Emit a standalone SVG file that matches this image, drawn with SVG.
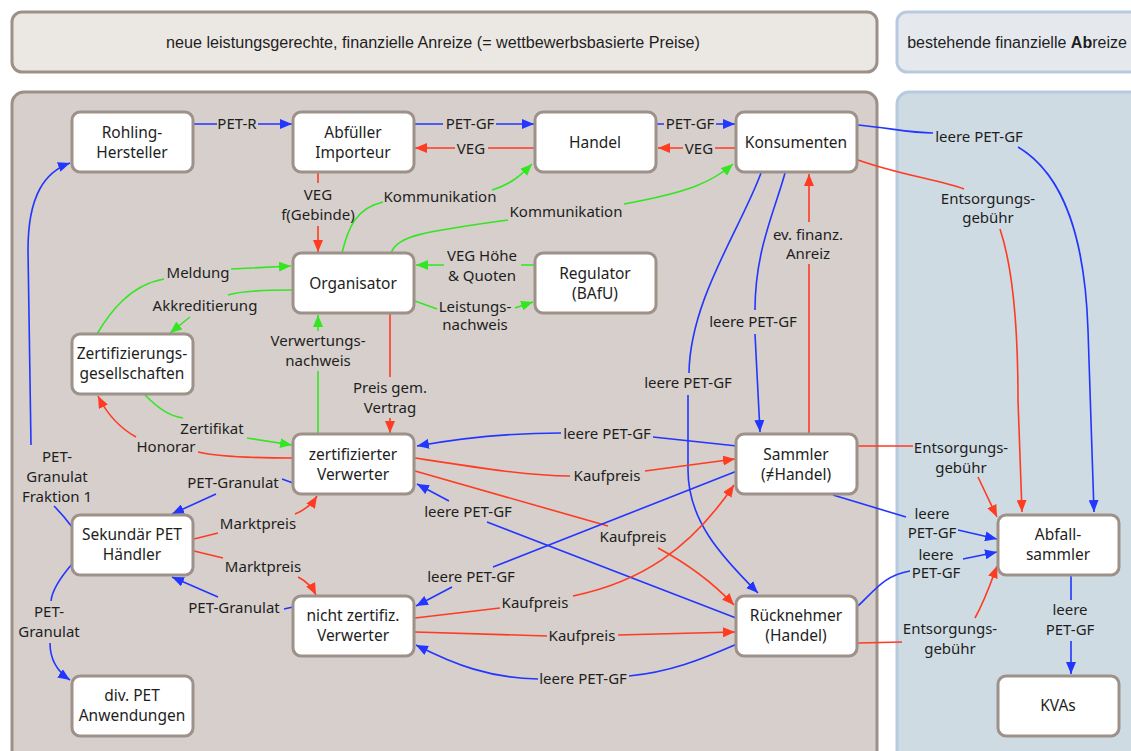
<svg xmlns="http://www.w3.org/2000/svg" width="1131" height="751" viewBox="0 0 1131 751">
<defs>
<style>
.node rect{fill:#fff;stroke:#9d9189;stroke-width:3}
text{font-family:"Noto Sans","Open Sans",sans-serif;font-size:15px;fill:#1e1e1e;text-anchor:middle}
.nt{font-size:15.5px}
.hd{font-family:"Liberation Sans",Arial,sans-serif;font-size:16px}
.c path{fill:none;stroke-width:1.6}
.b{stroke:#2236ff}
.r{stroke:#ff3b22}
.g{stroke:#33e622}
.b{marker-end:url(#ab)}
.r{marker-end:url(#ar)}
.g{marker-end:url(#ag)}
</style>
<marker id="ab" viewBox="0 0 12 10" refX="12" refY="5" markerWidth="12" markerHeight="10" markerUnits="userSpaceOnUse" orient="auto"><path d="M0,0 L12,5 L0,10 z" fill="#2236ff"/></marker>
<marker id="ar" viewBox="0 0 12 10" refX="12" refY="5" markerWidth="12" markerHeight="10" markerUnits="userSpaceOnUse" orient="auto"><path d="M0,0 L12,5 L0,10 z" fill="#ff3b22"/></marker>
<marker id="ag" viewBox="0 0 12 10" refX="12" refY="5" markerWidth="12" markerHeight="10" markerUnits="userSpaceOnUse" orient="auto"><path d="M0,0 L12,5 L0,10 z" fill="#33e622"/></marker>
</defs>
<rect width="1131" height="751" fill="#ffffff"/>
<g id="panels">
<rect x="12" y="12" width="865" height="60" rx="10" fill="#ebe7e3" stroke="#9d9088" stroke-width="3"/>
<rect x="897" y="12" width="250" height="60" rx="10" fill="#e5e9ee" stroke="#b7cae0" stroke-width="3"/>
<rect x="12" y="92" width="865" height="680" rx="12" fill="#d6cfcb" stroke="#9d9088" stroke-width="3"/>
<rect x="897" y="92" width="250" height="680" rx="12" fill="#cfdbe3" stroke="#b7cae0" stroke-width="3"/>
<text class="hd" x="433" y="48" textLength="534" lengthAdjust="spacingAndGlyphs">neue leistungsgerechte, finanzielle Anreize (= wettbewerbsbasierte Preise)</text>
<text class="hd" x="1017" y="48" font-size="15px">bestehende finanzielle <tspan font-weight="bold">Ab</tspan>reize</text>
</g>
<g id="connectors" class="c">
<path class="b" d="M193,124 L217,124 M258,124 L292,124"/>
<path class="b" d="M414,124 L443,124 M496,124 L534,124"/>
<path class="r" d="M535,148 L488,148 M455,148 L415,148"/>
<path class="b" d="M657,124 L664,124 M716,124 L735,124"/>
<path class="r" d="M736,148 L715,148 M683,148 L658,148"/>
<path class="r" d="M318,173 L318,183 M318,226 L318,252"/>
<path class="g" d="M342,253 C348,228 356,208 383,202 M492,190 C512,184 522,174 532,164"/>
<path class="g" d="M391,253 C398,236 420,232 508,220 M624,204 C690,192 712,182 733,164"/>
<path class="g" d="M535,265 L521,265 M444,265 L416,265"/>
<path class="g" d="M415,301 L437,309 M515,308 L533,302"/>
<path class="g" d="M97,334 C110,312 130,285 164,279 M231,269 L291,266"/>
<path class="g" d="M293,290 C265,290 240,291 228,295 M190,317 L170,333"/>
<path class="g" d="M318,434 L318,371 M318,331 L318,315"/>
<path class="r" d="M390,314 L390,377 M390,418 L390,433"/>
<path class="g" d="M145,395 C160,410 170,416 183,418 M247,438 L292,445"/>
<path class="r" d="M293,458 C250,458 215,456 198,452 M136,437 C118,427 106,412 98,396"/>
<path class="b" d="M293,483 L282,479 M216,494 L172,514"/>
<path class="r" d="M194,539 L218,533 M295,514 C305,510 312,504 317,496"/>
<path class="r" d="M194,551 L223,558 M298,577 C306,581 312,587 316,595"/>
<path class="b" d="M293,607 L284,609 M218,597 L172,577"/>
<path class="b" d="M72,527 C66,519 59,511 54,506 M31,445 L28,250 C28,195 45,172 70,163"/>
<path class="b" d="M72,564 C60,578 52,590 51,601 M50,643 C50,660 58,672 70,680"/>
<path class="b" d="M785,173 C775,210 755,250 755,310 M755,334 L760,432"/>
<path class="b" d="M761,173 C740,230 690,300 689,373 M688,395 L688,470 C688,520 720,555 758,593"/>
<path class="r" d="M809,434 L809,264 M809,222 L809,174"/>
<path class="b" d="M858,125 C890,128 910,133 933,133 M1018,147 C1065,175 1085,240 1088,330 L1094,512"/>
<path class="r" d="M858,160 C900,175 940,180 964,189 M1000,229 C1012,265 1018,320 1018,400 L1022,512"/>
<path class="b" d="M737,446 L653,437 M561,433 C500,433 450,440 417,446"/>
<path class="r" d="M415,458 C480,468 530,476 570,476 M645,471 L735,459"/>
<path class="r" d="M415,471 L608,526 M658,548 C690,565 715,585 734,605"/>
<path class="b" d="M736,618 L487,522 M449,501 L417,484"/>
<path class="b" d="M737,471 L493,567 M452,587 L416,606"/>
<path class="r" d="M415,618 L500,608 M573,596 C640,582 690,550 734,485"/>
<path class="r" d="M415,632 L547,636 M618,635 L735,632"/>
<path class="b" d="M737,644 C700,660 670,672 629,676 M538,679 C490,678 455,665 416,645"/>
<path class="r" d="M858,446 L913,446 M978,477 L997,517"/>
<path class="b" d="M833,495 L906,517 M958,530 L997,539"/>
<path class="b" d="M858,606 C875,590 885,575 910,571 M963,559 L997,552"/>
<path class="r" d="M858,643 L902,642 M975,618 C985,600 990,585 997,566"/>
<path class="b" d="M1071,576 L1071,600 M1071,641 L1071,674"/>
</g>
<g id="labels">
<text x="237" y="129">PET-R</text>
<text x="470" y="129">PET-GF</text>
<text x="471" y="154">VEG</text>
<text x="690" y="129">PET-GF</text>
<text x="699" y="154">VEG</text>
<text x="318" y="200">VEG</text>
<text x="318" y="220">f(Gebinde)</text>
<text x="440" y="202">Kommunikation</text>
<text x="566" y="217">Kommunikation</text>
<text x="482" y="261">VEG Höhe</text>
<text x="482" y="281">&amp; Quoten</text>
<text x="475" y="312">Leistungs-</text>
<text x="475" y="330">nachweis</text>
<text x="198" y="278">Meldung</text>
<text x="205" y="311">Akkreditierung</text>
<text x="318" y="346">Verwertungs-</text>
<text x="318" y="366">nachweis</text>
<text x="390" y="393">Preis gem.</text>
<text x="390" y="413">Vertrag</text>
<text x="212" y="434">Zertifikat</text>
<text x="166" y="452">Honorar</text>
<text x="233" y="488">PET-Granulat</text>
<text x="258" y="529">Marktpreis</text>
<text x="263" y="572">Marktpreis</text>
<text x="234" y="613">PET-Granulat</text>
<text x="57" y="462">PET-</text>
<text x="57" y="482">Granulat</text>
<text x="57" y="502">Fraktion 1</text>
<text x="49" y="617">PET-</text>
<text x="49" y="637">Granulat</text>
<text x="753" y="327">leere PET-GF</text>
<text x="688" y="388">leere PET-GF</text>
<text x="808" y="240">ev. finanz.</text>
<text x="808" y="259">Anreiz</text>
<text x="979" y="142">leere PET-GF</text>
<text x="988" y="204">Entsorgungs-</text>
<text x="988" y="223">gebühr</text>
<text x="607" y="439">leere PET-GF</text>
<text x="607" y="481">Kaufpreis</text>
<text x="633" y="542">Kaufpreis</text>
<text x="468" y="517">leere PET-GF</text>
<text x="471" y="582">leere PET-GF</text>
<text x="535" y="608">Kaufpreis</text>
<text x="582" y="641">Kaufpreis</text>
<text x="583" y="684">leere PET-GF</text>
<text x="961" y="453">Entsorgungs-</text>
<text x="961" y="473">gebühr</text>
<text x="932" y="519">leere</text>
<text x="932" y="538">PET-GF</text>
<text x="936" y="560">leere</text>
<text x="936" y="578">PET-GF</text>
<text x="950" y="634">Entsorgungs-</text>
<text x="950" y="654">gebühr</text>
<text x="1070" y="615">leere</text>
<text x="1070" y="635">PET-GF</text>
</g>
<g id="n-rohling" class="node"><rect x="72" y="112" width="121" height="60" rx="8"/><text class="nt" x="132" y="138">Rohling-</text><text class="nt" x="132" y="158">Hersteller</text></g>
<g id="n-abfueller" class="node"><rect x="293" y="112" width="121" height="60" rx="8"/><text class="nt" x="353" y="138">Abfüller</text><text class="nt" x="353" y="158">Importeur</text></g>
<g id="n-handel" class="node"><rect x="535" y="112" width="121" height="60" rx="8"/><text class="nt" x="595" y="148">Handel</text></g>
<g id="n-konsumenten" class="node"><rect x="736" y="112" width="121" height="60" rx="8"/><text class="nt" x="796" y="148">Konsumenten</text></g>
<g id="n-organisator" class="node"><rect x="293" y="253" width="121" height="60" rx="8"/><text class="nt" x="353" y="289">Organisator</text></g>
<g id="n-regulator" class="node"><rect x="535" y="253" width="121" height="60" rx="8"/><text class="nt" x="595" y="279">Regulator</text><text class="nt" x="595" y="299">(BAfU)</text></g>
<g id="n-zertges" class="node"><rect x="72" y="334" width="121" height="60" rx="8"/><text class="nt" x="132" y="359">Zertifizierungs-</text><text class="nt" x="132" y="379">gesellschaften</text></g>
<g id="n-zertverwerter" class="node"><rect x="293" y="434" width="121" height="60" rx="8"/><text class="nt" x="353" y="460">zertifizierter</text><text class="nt" x="353" y="480">Verwerter</text></g>
<g id="n-sekundaer" class="node"><rect x="72" y="515" width="121" height="60" rx="8"/><text class="nt" x="132" y="540">Sekundär PET</text><text class="nt" x="132" y="560">Händler</text></g>
<g id="n-nichtzert" class="node"><rect x="293" y="596" width="121" height="60" rx="8"/><text class="nt" x="353" y="621">nicht zertifiz.</text><text class="nt" x="353" y="641">Verwerter</text></g>
<g id="n-divpet" class="node"><rect x="72" y="676" width="121" height="60" rx="8"/><text class="nt" x="132" y="701">div. PET</text><text class="nt" x="132" y="721">Anwendungen</text></g>
<g id="n-sammler" class="node"><rect x="736" y="434" width="121" height="60" rx="8"/><text class="nt" x="796" y="460">Sammler</text><text class="nt" x="796" y="480">(≠Handel)</text></g>
<g id="n-ruecknehmer" class="node"><rect x="736" y="596" width="121" height="60" rx="8"/><text class="nt" x="796" y="621">Rücknehmer</text><text class="nt" x="796" y="641">(Handel)</text></g>
<g id="n-abfallsammler" class="node"><rect x="998" y="515" width="121" height="60" rx="8"/><text class="nt" x="1058" y="540">Abfall-</text><text class="nt" x="1058" y="560">sammler</text></g>
<g id="n-kvas" class="node"><rect x="998" y="676" width="121" height="60" rx="8"/><text class="nt" x="1058" y="711">KVAs</text></g>
</svg>
